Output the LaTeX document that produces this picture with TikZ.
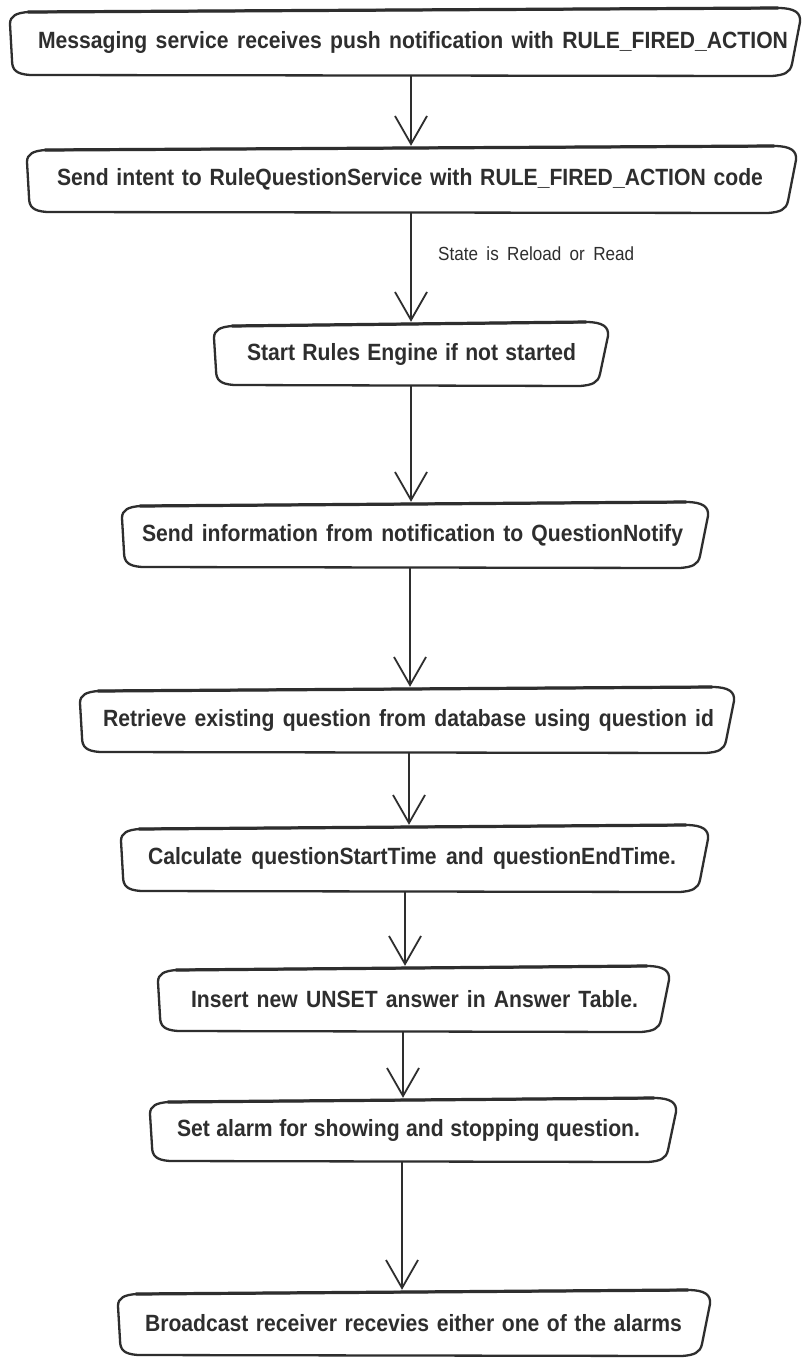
\documentclass[tikz,border=0pt]{standalone}
\usepackage{fontspec}
\usepackage{graphicx}
\setmainfont{Liberation Sans}
\usetikzlibrary{arrows.meta,calc}
\definecolor{ink}{HTML}{2E2E2E}
\tikzset{
  boxarea/.style={inner sep=0pt},
  boxtext/.style={inner sep=0pt, text=ink, font=\fontsize{23.5}{26}\selectfont\bfseries},
  boxline/.style={draw=ink, line width=2.3pt, line join=round},
  topline/.style={draw=ink, line width=3.2pt, line cap=round},
  arr/.style={draw=ink, line width=1.8pt, -{Straight Barb[length=28pt,width=32pt,line width=1.8pt]}},
  lbl/.style={inner sep=0pt, text=ink, font=\fontsize{19}{21}\selectfont, anchor=west}
}
\newcommand\fitw[2]{\scalebox{0.9}[1]{\makebox[\dimexpr #1pt*10/9\relax][s]{#2}}}
% name, L, T, R, B, text centre x, text width, text
\newcommand\skb[8]{%
 \node[boxarea, minimum width={(#4-#2)*1pt}, minimum height={(#5-#3)*1pt}] (#1) at ({(#2+#4)/2},{(#3+#5)/2}) {};
 \node[boxtext] (#1t) at ({#6},{(#3+#5)/2}) {\fitw{#7}{#8}};
 \draw[boxline] ({#2+18},{#3+4}) -- ({#4-22},{#3}) .. controls ({#4-5},{#3}) and ({#4+1},{#3+5}) .. ({#4},{#3+14}) -- ({#4-8},{#5-12}) .. controls ({#4-10},{#5-3}) and ({#4-16},{#5-1}) .. ({#4-28},{#5}) -- ({#2+20},{#5-1}) .. controls ({#2+6},{#5-2}) and ({#2+2},{#5-6}) .. ({#2+2},{#5-16}) -- ({#2},{#3+16}) .. controls ({#2},{#3+8}) and ({#2+6},{#3+5}) .. ({#2+18},{#3+4}) -- cycle;
 \draw[topline] ({#2+18},{#3+4}) -- ({#4-22},{#3});
}
\begin{document}
\begin{tikzpicture}[x=1pt,y=-1pt]
\useasboundingbox[fill=white] (0,0) rectangle (804,1361);
\skb{b1}{10}{8}{800}{76}{413}{750}{Messaging service receives push notification with RULE\_FIRED\_ACTION}
\skb{b2}{27}{146}{796}{213}{410}{706}{Send intent to RuleQuestionService with RULE\_FIRED\_ACTION code}
\skb{b3}{214}{322}{608}{386}{411.5}{329}{Start Rules Engine if not started}
\skb{b4}{122}{502}{708}{568}{412.5}{541}{Send information from notification to QuestionNotify}
\skb{b5}{80}{687}{734}{753}{408.5}{611}{Retrieve existing question from database using question id}
\skb{b6}{121}{825}{708}{892}{412}{528}{Calculate questionStartTime and questionEndTime.}
\skb{b7}{158}{966}{669}{1032}{414.5}{447}{Insert new UNSET answer in Answer Table.}
\skb{b8}{150}{1098}{676}{1162}{408.5}{463}{Set alarm for showing and stopping question.}
\skb{b9}{118}{1290}{710}{1356}{413.5}{537}{Broadcast receiver recevies either one of the alarms}
\coordinate (a1) at (411,0);
\coordinate (a2) at (411,0);
\coordinate (a3) at (411,0);
\coordinate (a4) at (410,0);
\coordinate (a5) at (409,0);
\coordinate (a6) at (405,0);
\coordinate (a7) at (403,0);
\coordinate (a8) at (402,0);
\draw[arr] (b1.south -| a1) -- (b2.north -| a1);
\draw[arr] (b2.south -| a2) -- (b3.north -| a2);
\draw[arr] (b3.south -| a3) -- (b4.north -| a3);
\draw[arr] (b4.south -| a4) -- (b5.north -| a4);
\draw[arr] (b5.south -| a5) -- (b6.north -| a5);
\draw[arr] (b6.south -| a6) -- (b7.north -| a6);
\draw[arr] (b7.south -| a7) -- (b8.north -| a7);
\draw[arr] (b8.south -| a8) -- (b9.north -| a8);
\node[lbl] (l1) at (438,254) {\fitw{196}{State is Reload or Read}};
\end{tikzpicture}
\end{document}
